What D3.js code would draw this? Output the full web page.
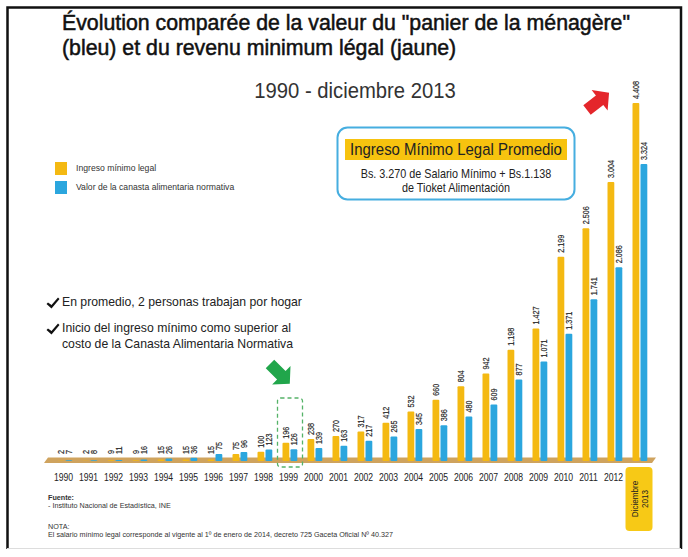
<!DOCTYPE html>
<html lang="es">
<head>
    <meta charset="UTF-8">
    <title>Panier de la ménagère vs revenu minimum</title>
    <script src="https://d3js.org/d3.v7.min.js"></script>
    <style>
        body, html {
            margin: 0;
            padding: 0;
            background: #fff;
        }
        svg {
            display: block;
            font-family: "Liberation Sans", Arial, sans-serif;
        }
        .value-label {
            font-size: 9.6px;
            fill: #2a2a2a;
            stroke: #2a2a2a;
            stroke-width: 0.2px;
        }
    </style>
</head>
<body>
<svg width="688" height="557"></svg>
<script>
    // data
    const years = ["1990", "1991", "1992", "1993", "1994", "1995", "1996", "1997", "1998", "1999", "2000", "2001",
        "2002", "2003", "2004", "2005", "2006", "2007", "2008", "2009", "2010", "2011", "2012", "2013"];
    const ingresoMinimo = [2, 2, 9, 9, 15, 15, 15, 75, 100, 196, 238, 270,
        317, 412, 532, 660, 804, 942, 1198, 1427, 2199, 2506, 3004, 4408];
    const canasta = [7, 8, 11, 16, 26, 36, 75, 96, 123, 126, 139, 163,
        217, 265, 345, 386, 480, 609, 877, 1071, 1371, 1741, 2086, 3324];
    const legendLabels = ["Ingreso mínimo legal", "Valor de la canasta alimentaria normativa"];

    const yellow = "#f4b912";
    const blue = "#2ba6de";

    const svg = d3.select("svg");

    // frame
    svg.append("path")
        .attr("d", "M7.5,549 V7.5 H681 V549")
        .attr("fill", "none")
        .attr("stroke", "#111")
        .attr("stroke-width", 2.5);
    svg.append("line")
        .attr("x1", 7).attr("x2", 681)
        .attr("y1", 548.5).attr("y2", 548.5)
        .attr("stroke", "#ddd");

    // titles
    const title = svg.append("text")
        .attr("font-size", 21.3)
        .attr("fill", "#111")
        .attr("stroke", "#111")
        .attr("stroke-width", 0.5);
    title.append("tspan").attr("x", 62).attr("y", 30)
        .text("Évolution comparée de la valeur du \"panier de la ménagère\"");
    title.append("tspan").attr("x", 62).attr("y", 55)
        .text("(bleu) et du revenu minimum légal (jaune)");

    svg.append("text")
        .attr("transform", "translate(355,98) scale(0.9,1)")
        .attr("text-anchor", "middle")
        .attr("font-size", 22.5)
        .attr("fill", "#333")
        .text("1990 - diciembre 2013");

    // scales
    const x = d3.scaleBand()
        .domain(years)
        .range([52, 652]);
    // the 2013 bars are squeezed in the original, so the top part of the scale is compressed
    const y = d3.scaleLinear()
        .domain([0, 3004, 4408])
        .range([461, 182, 103]);

    const fmt = v => v >= 1000 ? d3.format(",")(v).replace(",", ".") : String(v);

    // floor of the chart
    svg.append("path")
        .attr("d", "M44,463 L48,457.5 L656,457.5 L652,463 Z")
        .attr("fill", "#cfa35e");

    const data = years.map((yr, i) => ({year: yr, ingreso: ingresoMinimo[i], canasta: canasta[i]}));

    const groups = svg.append("g")
        .selectAll("g")
        .data(data)
        .enter().append("g")
        .attr("transform", d => `translate(${x(d.year) + x.bandwidth() / 2},0)`);

    groups.append("rect")
        .attr("x", -7)
        .attr("width", 6.8)
        .attr("y", d => y(d.ingreso))
        .attr("height", d => y(0) - y(d.ingreso))
        .attr("rx", 1)
        .attr("fill", yellow);

    groups.append("rect")
        .attr("x", 1)
        .attr("width", 6.8)
        .attr("y", d => y(d.canasta))
        .attr("height", d => y(0) - y(d.canasta))
        .attr("rx", 1)
        .attr("fill", blue);

    // rotated value labels (condensed along the reading direction)
    groups.append("text")
        .attr("class", "value-label")
        .attr("transform", d => `translate(-0.6,${Math.min(y(d.ingreso), 458) - 4}) rotate(-90) scale(0.75,1)`)
        .text(d => fmt(d.ingreso));

    groups.append("text")
        .attr("class", "value-label")
        .attr("transform", d => `translate(7.8,${Math.min(y(d.canasta), 458) - 4}) rotate(-90) scale(0.75,1)`)
        .text(d => fmt(d.canasta));

    // year labels (last one sits in a yellow tab)
    svg.append("g")
        .selectAll("text")
        .data(years.slice(0, -1))
        .enter().append("text")
        .attr("transform", d => `translate(${x(d) + x.bandwidth() / 2 - 1},481) scale(0.8,1)`)
        .attr("text-anchor", "middle")
        .attr("font-size", 10.8)
        .attr("fill", "#222")
        .text(d => d);

    const lastYear = years[years.length - 1];
    const tabX = x(lastYear) + x.bandwidth() / 2;
    svg.append("rect")
        .attr("x", tabX - 14)
        .attr("y", 467)
        .attr("width", 27)
        .attr("height", 64)
        .attr("rx", 4)
        .attr("fill", "#f7c916");
    const tab = svg.append("text")
        .attr("transform", `translate(${tabX},499) rotate(-90) scale(0.85,1)`)
        .attr("text-anchor", "middle")
        .attr("font-size", 9.5)
        .attr("fill", "#222");
    tab.append("tspan").attr("x", 0).attr("y", -2).text("Diciembre");
    tab.append("tspan").attr("x", 0).attr("y", 8.5).text(lastYear);

    // legend
    const legend = svg.append("g")
        .selectAll("g")
        .data(legendLabels)
        .enter().append("g")
        .attr("transform", (d, i) => `translate(55,${162 + i * 19})`);
    legend.append("rect")
        .attr("width", 12)
        .attr("height", 13)
        .attr("fill", (d, i) => i === 0 ? yellow : blue);
    legend.append("text")
        .attr("transform", "translate(21,9) scale(0.9,1)")
        .attr("font-size", 9.6)
        .attr("fill", "#333")
        .text(d => d);

    // info box
    svg.append("rect")
        .attr("x", 337.5).attr("y", 127.5)
        .attr("width", 237).attr("height", 72)
        .attr("rx", 10)
        .attr("fill", "#fff")
        .attr("stroke", "#46aee0")
        .attr("stroke-width", 2);
    svg.append("rect")
        .attr("x", 345).attr("y", 139)
        .attr("width", 222).attr("height", 21)
        .attr("fill", "#f7c30f");
    svg.append("text")
        .attr("transform", "translate(456,155) scale(0.88,1)")
        .attr("text-anchor", "middle")
        .attr("font-size", 17)
        .attr("fill", "#222")
        .text("Ingreso Mínimo Legal Promedio");
    const boxText = svg.append("text")
        .attr("transform", "translate(456,0) scale(0.9,1)")
        .attr("text-anchor", "middle")
        .attr("font-size", 12)
        .attr("fill", "#222");
    boxText.append("tspan").attr("x", 0).attr("y", 178).text("Bs. 3.270 de Salario Mínimo + Bs.1.138");
    boxText.append("tspan").attr("x", 0).attr("y", 192).text("de Tioket Alimentación");

    // bullet notes
    const check = "M0,4.5 L3.5,7 L10,-0.5 L11.5,1 L3.5,10.5 L-1.5,6 Z";
    [[297, ["En promedio, 2 personas trabajan por hogar"]],
        [323, ["Inicio del ingreso mínimo como superior al", "costo de la Canasta Alimentaria Normativa"]]]
        .forEach(([top, lines]) => {
            svg.append("path")
                .attr("d", check)
                .attr("transform", `translate(48,${top + 1})`)
                .attr("fill", "#111");
            const t = svg.append("text")
                .attr("transform", "translate(62,0) scale(0.9,1)")
                .attr("font-size", 13.6)
                .attr("fill", "#222");
            lines.forEach((l, i) => t.append("tspan").attr("x", 0).attr("y", top + 9 + i * 16).text(l));
        });

    // green arrow + dashed highlight around 1999
    const arrowShape = "M0,-6 L16,-6 L16,-13 L28,0 L16,13 L16,6 L0,6 Z";
    svg.append("path")
        .attr("d", arrowShape)
        .attr("transform", "translate(270,364) rotate(45)")
        .attr("fill", "#21a64b");
    const x99 = x("1999");
    svg.append("rect")
        .attr("x", x99 + 0.5).attr("y", 398)
        .attr("width", 25).attr("height", 69)
        .attr("rx", 3)
        .attr("fill", "none")
        .attr("stroke", "#55b368")
        .attr("stroke-width", 1.3)
        .attr("stroke-dasharray", "4,3");

    // red arrow near the 2013 bar
    svg.append("path")
        .attr("d", arrowShape)
        .attr("transform", "translate(587,110) rotate(-38)")
        .attr("fill", "#e4262b");

    // sources
    const src = svg.append("text")
        .attr("transform", "translate(48,0) scale(0.9,1)")
        .attr("font-size", 8)
        .attr("fill", "#333");
    src.append("tspan").attr("x", 0).attr("y", 500).style("font-weight", "bold").text("Fuente:");
    src.append("tspan").attr("x", 0).attr("y", 508.5).text("- Instituto Nacional de Estadística, INE");
    src.append("tspan").attr("x", 0).attr("y", 529).text("NOTA:");
    src.append("tspan").attr("x", 0).attr("y", 537.5)
        .text("El salario mínimo legal corresponde al vigente al 1º de enero de 2014, decreto 725 Gaceta Oficial Nº 40.327");
</script>
</body>
</html>
